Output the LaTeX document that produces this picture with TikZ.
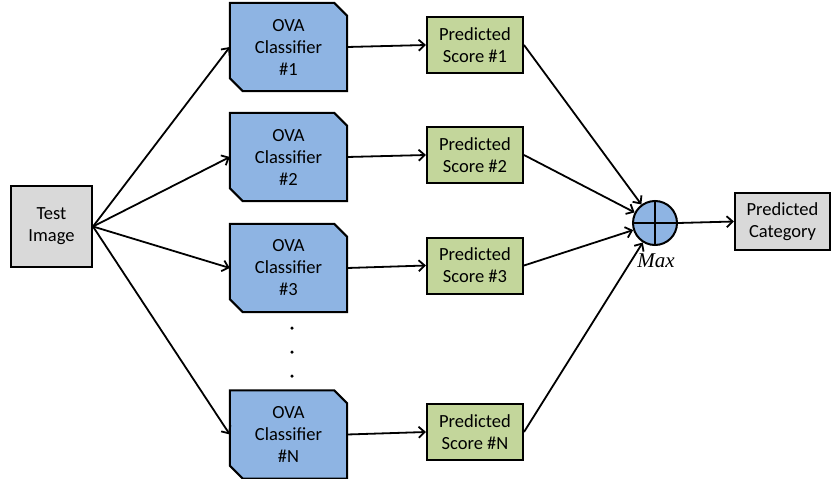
\documentclass[tikz,border=0pt]{standalone}
\usepackage{fontspec}
\setmainfont{Carlito}
\newfontfamily\maxfont{Liberation Serif}
\usetikzlibrary{arrows.meta,calc}
\definecolor{clfblue}{HTML}{8EB4E3}
\definecolor{scoregreen}{HTML}{C3D69B}
\definecolor{boxgray}{HTML}{D9D9D9}
\begin{document}
\begin{tikzpicture}[x=1pt,y=-1pt,
  every node/.style={font=\fontsize{18.5}{22}\selectfont, align=center, inner sep=0pt},
  graybox/.style={draw, line width=2pt, fill=boxgray},
  clf/.style={minimum width=117pt, minimum height=88pt},
  clfshape/.style={draw, line width=2pt, fill=clfblue, line join=miter},
  score/.style={draw, line width=2pt, fill=scoregreen, minimum width=96pt, minimum height=56pt},
  arr/.style={line width=1.8pt, -{Straight Barb[length=6pt,width=11pt,line width=1.8pt]}},
  dotmark/.style={circle, fill=black, minimum size=3.5pt}
]
\useasboundingbox (0,0) rectangle (839,479);

% test image
\node[graybox, minimum width=81pt, minimum height=81pt] (t) at (51.5,226.5) {Test\\Image};

% classifiers
\node[clf] (c1) at (288.5,47) {};
\node[clf] (c2) at (288.5,157) {};
\node[clf] (c3) at (288.5,268) {};
\node[clf] (cn) at (288.5,434.5) {};
\foreach \c in {c1,c2,c3,cn}{
  \draw[clfshape] (\c.north west) -- ($(\c.north east)+(-13,0)$) -- ($(\c.north east)+(0,13)$)
     -- (\c.south east) -- ($(\c.south west)+(13,0)$) -- ($(\c.south west)+(0,-13)$) -- cycle;
}
\node at (c1) {OVA\\Classifier\\\#1};
\node at (c2) {OVA\\Classifier\\\#2};
\node at (c3) {OVA\\Classifier\\\#3};
\node at (cn) {OVA\\Classifier\\\#N};

% dots
\node[dotmark] (d1) at (292,328) {};
\node[dotmark] (d2) at (292,352) {};
\node[dotmark] (d3) at (292,376) {};

% scores
\node[score] (s1) at (475,45) {Predicted\\Score \#1};
\node[score] (s2) at (475,155) {Predicted\\Score \#2};
\node[score] (s3) at (475,265.5) {Predicted\\Score \#3};
\node[score] (sn) at (475,432) {Predicted\\Score \#N};

% max circle
\node[circle, draw, line width=2pt, fill=clfblue, minimum size=44pt] (m) at (655,223) {};
\draw[line width=2pt] (m.north) -- (m.south) (m.west) -- (m.east);
\node[font=\maxfont\itshape\fontsize{21}{24}\selectfont] (ml) at (656,261) {Max};

% category
\node[graybox, minimum width=95pt, minimum height=57pt] (cat) at (782.5,221.5) {Predicted\\Category};

% connectors
\foreach \c in {c1,c2,c3,cn}{ \draw[arr] (t.east) -- (\c.west); }
\draw[arr] (c1.east) -- (s1.west);
\draw[arr] (c2.east) -- (s2.west);
\draw[arr] (c3.east) -- (s3.west);
\draw[arr] (cn.east) -- (sn.west);
\foreach \s in {s1,s2,s3,sn}{ \draw[arr] (\s.east) -- (m); }
\draw[arr] (m.east) -- (cat.west);
\end{tikzpicture}
\end{document}
